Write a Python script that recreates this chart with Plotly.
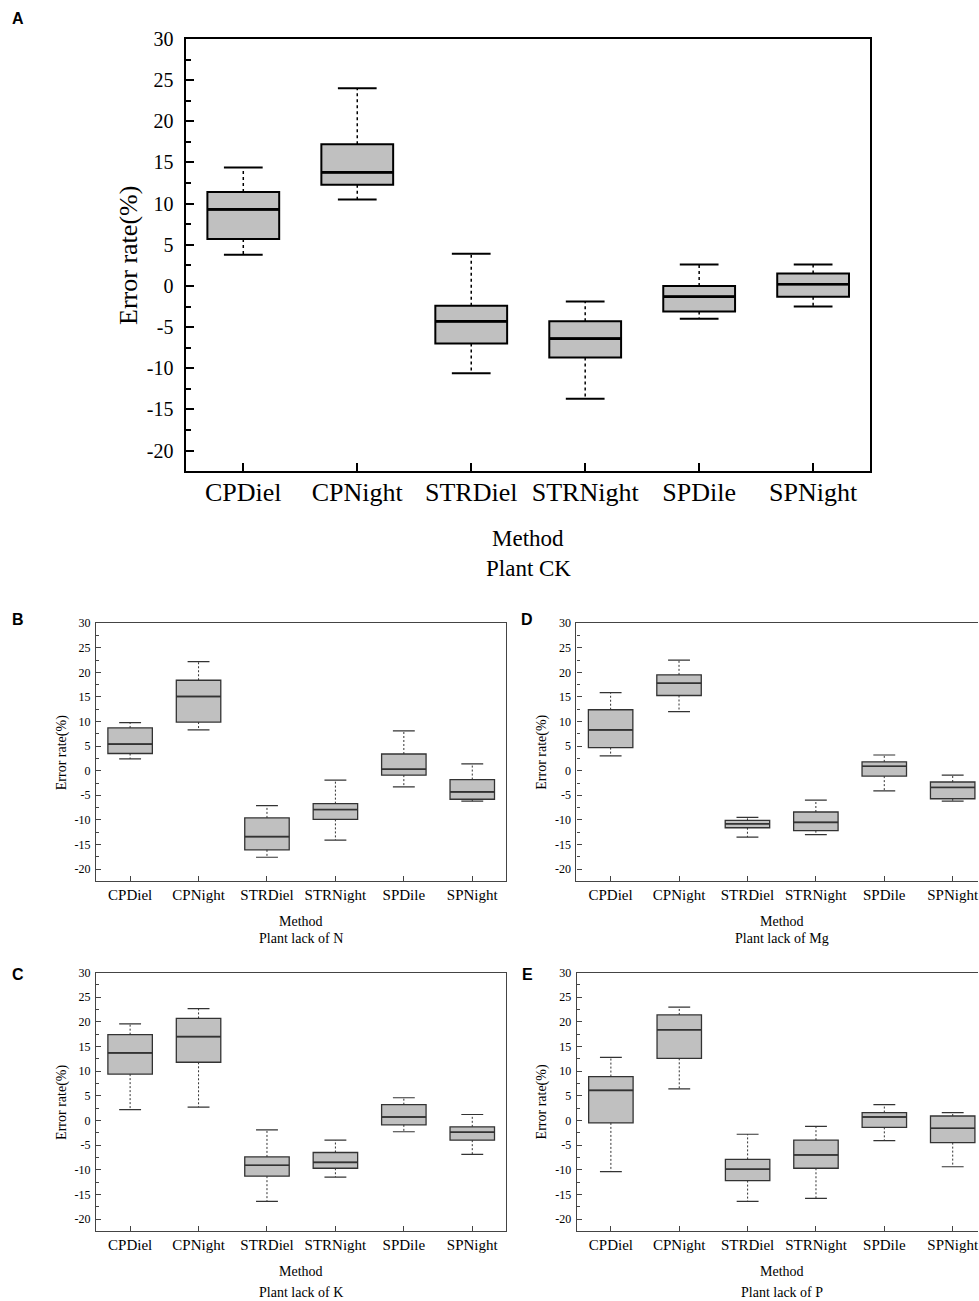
import plotly.graph_objects as go

W, H = 979, 1301

categories = ["CPDiel", "CPNight", "STRDiel", "STRNight", "SPDile", "SPNight"]
y_ticks = [-20, -15, -10, -5, 0, 5, 10, 15, 20, 25, 30]
y_tick_text = ["-20", "-15", "-10", "-5", "0", "5", "10", "15", "20", "25", "30"]

# Panel A - Plant CK
ck_lower = [3.8, 10.5, -10.6, -13.7, -4.0, -2.5]
ck_q1 = [5.7, 12.3, -7.0, -8.7, -3.1, -1.3]
ck_median = [9.3, 13.8, -4.3, -6.4, -1.3, 0.2]
ck_q3 = [11.4, 17.2, -2.4, -4.3, 0.0, 1.5]
ck_upper = [14.4, 24.0, 3.9, -1.9, 2.6, 2.6]

# Panel B - Plant lack of N
n_lower = [2.4, 8.3, -17.6, -14.1, -3.3, -6.2]
n_q1 = [3.5, 9.9, -16.1, -9.9, -0.9, -5.8]
n_median = [5.4, 15.1, -13.4, -7.9, 0.3, -4.3]
n_q3 = [8.7, 18.4, -9.6, -6.7, 3.4, -1.8]
n_upper = [9.8, 22.2, -7.1, -1.9, 8.1, 1.4]

# Panel D - Plant lack of Mg
mg_lower = [3.0, 12.0, -13.5, -13.0, -4.1, -6.2]
mg_q1 = [4.7, 15.3, -11.6, -12.2, -1.1, -5.7]
mg_median = [8.3, 17.8, -10.8, -10.5, 0.9, -3.4]
mg_q3 = [12.4, 19.5, -10.1, -8.4, 1.8, -2.3]
mg_upper = [15.9, 22.5, -9.5, -6.0, 3.2, -0.9]

# Panel C - Plant lack of K
k_lower = [2.2, 2.7, -16.4, -11.5, -2.3, -6.9]
k_q1 = [9.4, 11.8, -11.3, -9.7, -0.9, -4.0]
k_median = [13.7, 17.0, -9.1, -8.5, 0.7, -2.4]
k_q3 = [17.4, 20.7, -7.4, -6.5, 3.2, -1.3]
k_upper = [19.6, 22.7, -1.9, -4.0, 4.6, 1.2]

# Panel E - Plant lack of P
p_lower = [-10.4, 6.4, -16.4, -15.8, -4.1, -9.4]
p_q1 = [-0.5, 12.6, -12.2, -9.7, -1.4, -4.5]
p_median = [6.1, 18.4, -9.9, -7.0, 0.7, -1.6]
p_q3 = [8.9, 21.4, -7.9, -4.0, 1.6, 0.9]
p_upper = [12.8, 23.0, -2.8, -1.2, 3.2, 1.6]

SERIF = "Liberation Serif, Times New Roman, serif"
SANS = "Liberation Sans, Arial, sans-serif"

# vertical placement: the page shows the figure over rows 10..1301
TOP_OFF, EFF_H = 10.0, 1291.0


def py(p):
    return 1 - (p - TOP_OFF) / EFF_H


def px(p):
    return p / W


big = dict(tick=20, xtick=26, ytitle=26, xtitle=23, frame=1.6, fcol="black",
           box=2, med=2.6, whisk=1.5, dash="3px,3px", cap=2, bw=0.63, cw=0.34,
           ticklen=8, minorlen=5, bcol="black", xstand=-3, ystand=7)
small = dict(tick=12, xtick=15, ytitle=14, xtitle=14, frame=1.2, fcol="#444444",
             box=1.3, med=1.6, whisk=1.0, dash="2px,2px", cap=1.2, bw=0.65, cw=0.32,
             ticklen=5, minorlen=3, bcol="#333333", xstand=0, ystand=2)

panels = [
    dict(n="", lab="A", lower=ck_lower, q1=ck_q1, med=ck_median, q3=ck_q3, upper=ck_upper,
         xd=[px(186.5), px(871)], yd=[py(470.5), py(38)], xr=[-0.5, 5.5], st=big,
         sub="Plant CK", ytx=128, l1=538, l2=568, labxy=(18, 18), right=True),
    dict(n="2", lab="B", lower=n_lower, q1=n_q1, med=n_median, q3=n_q3, upper=n_upper,
         xd=[px(96), px(507)], yd=[py(881), py(622.7)], xr=[-0.5, 5.5], st=small,
         sub="Plant lack of N", ytx=62, l1=921.7, l2=938, labxy=(18, 619), right=True),
    dict(n="3", lab="D", lower=mg_lower, q1=mg_q1, med=mg_median, q3=mg_q3, upper=mg_upper,
         xd=[px(577), 1.0], yd=[py(881), py(622.7)], xr=[-0.5, 5.37], st=small,
         sub="Plant lack of Mg", ytx=543, l1=921.7, l2=938, labxy=(528, 619), right=False),
    dict(n="4", lab="C", lower=k_lower, q1=k_q1, med=k_median, q3=k_q3, upper=k_upper,
         xd=[px(96), px(507)], yd=[py(1231.3), py(972.3)], xr=[-0.5, 5.5], st=small,
         sub="Plant lack of K", ytx=62, l1=1271.7, l2=1292, labxy=(18, 974), right=True),
    dict(n="5", lab="E", lower=p_lower, q1=p_q1, med=p_median, q3=p_q3, upper=p_upper,
         xd=[px(577.3), 1.0], yd=[py(1231.3), py(972.3)], xr=[-0.5, 5.37], st=small,
         sub="Plant lack of P", ytx=543, l1=1271.7, l2=1292, labxy=(528, 974), right=False),
]

fig = go.Figure()
annotations = []
layout = {}
pos = list(range(len(categories)))

for pnl in panels:
    st = pnl["st"]
    xa, ya = "x" + pnl["n"], "y" + pnl["n"]
    # whiskers (dashed)
    wx, wy = [], []
    for i in pos:
        wx += [i, i, None, i, i, None]
        wy += [pnl["q3"][i], pnl["upper"][i], None, pnl["q1"][i], pnl["lower"][i], None]
    fig.add_trace(go.Scatter(x=wx, y=wy, mode="lines", xaxis=xa, yaxis=ya,
                             line=dict(color=st["bcol"], width=st["whisk"], dash=st["dash"]),
                             hoverinfo="skip"))
    # caps
    cx, cy = [], []
    for i in pos:
        for v in (pnl["upper"][i], pnl["lower"][i]):
            cx += [i - st["cw"] / 2, i + st["cw"] / 2, None]
            cy += [v, v, None]
    fig.add_trace(go.Scatter(x=cx, y=cy, mode="lines", xaxis=xa, yaxis=ya,
                             line=dict(color=st["bcol"], width=st["cap"]), hoverinfo="skip"))
    # boxes
    fig.add_trace(go.Box(x=pos, q1=pnl["q1"], median=pnl["med"], q3=pnl["q3"],
                         lowerfence=pnl["q1"], upperfence=pnl["q3"], width=st["bw"],
                         fillcolor="#c0c0c0", line=dict(color=st["bcol"], width=st["box"]),
                         xaxis=xa, yaxis=ya, boxpoints=False, hoverinfo="skip"))
    # medians (thicker)
    mx, my = [], []
    for i in pos:
        mx += [i - st["bw"] / 2, i + st["bw"] / 2, None]
        my += [pnl["med"][i], pnl["med"][i], None]
    fig.add_trace(go.Scatter(x=mx, y=my, mode="lines", xaxis=xa, yaxis=ya,
                             line=dict(color=st["bcol"], width=st["med"]), hoverinfo="skip"))

    layout["xaxis" + pnl["n"]] = dict(
        domain=pnl["xd"], range=pnl["xr"], anchor=ya, tickmode="array", tickvals=pos,
        ticktext=categories, ticks="inside", ticklen=st["ticklen"], tickcolor=st["fcol"],
        tickwidth=st["frame"], showline=True, linecolor=st["fcol"], linewidth=st["frame"],
        mirror=True, showgrid=False, zeroline=False, ticklabeloverflow="allow",
        ticklabelstandoff=st["xstand"],
        tickfont=dict(family=SERIF, size=st["xtick"], color="black"))
    layout["yaxis" + pnl["n"]] = dict(
        domain=pnl["yd"], range=[-22.5, 30], anchor=xa, tickmode="array", tickvals=y_ticks,
        ticktext=y_tick_text, ticklabelstandoff=st["ystand"],
        ticks="inside", ticklen=st["ticklen"], tickcolor=st["fcol"], tickwidth=st["frame"],
        minor=dict(tickmode="linear", tick0=-22.5, dtick=5, ticks="inside",
                   ticklen=st["minorlen"], tickcolor=st["fcol"], tickwidth=st["frame"]),
        showline=True, linecolor=st["fcol"], linewidth=st["frame"], mirror=pnl["right"],
        showgrid=False, zeroline=False,
        tickfont=dict(family=SERIF, size=st["tick"], color="black"))

    xref = xa
    annotations.append(dict(x=2.5, y=py(pnl["l1"]), xref=xref, yref="paper", text="Method",
                            showarrow=False, yanchor="middle",
                            font=dict(family=SERIF, size=st["xtitle"], color="black")))
    annotations.append(dict(x=2.5, y=py(pnl["l2"]), xref=xref, yref="paper", text=pnl["sub"],
                            showarrow=False, yanchor="middle",
                            font=dict(family=SERIF, size=st["xtitle"], color="black")))
    annotations.append(dict(x=px(pnl["ytx"]), y=(pnl["yd"][0] + pnl["yd"][1]) / 2,
                            xref="paper", yref="paper", text="Error rate(%)", textangle=-90,
                            showarrow=False, xanchor="center", yanchor="middle",
                            font=dict(family=SERIF, size=st["ytitle"], color="black")))
    annotations.append(dict(x=px(pnl["labxy"][0]), y=py(pnl["labxy"][1]), xref="paper",
                            yref="paper", text="<b>" + pnl["lab"] + "</b>", showarrow=False,
                            xanchor="center", yanchor="middle",
                            font=dict(family=SANS, size=16, color="black")))

fig.update_layout(width=W, height=H, margin=dict(l=0, r=0, t=0, b=0),
                  paper_bgcolor="white", plot_bgcolor="white", showlegend=False,
                  annotations=annotations, **layout)

fig.write_html(
    "out.html",
    config={"displayModeBar": False},
    post_script=(
        "document.body.style.margin='0px';document.body.style.padding='0px';"
        "var gd=document.getElementById('{plot_id}');"
        "gd.style.position='absolute';gd.style.top='0px';gd.style.left='0px';"
    ),
)
